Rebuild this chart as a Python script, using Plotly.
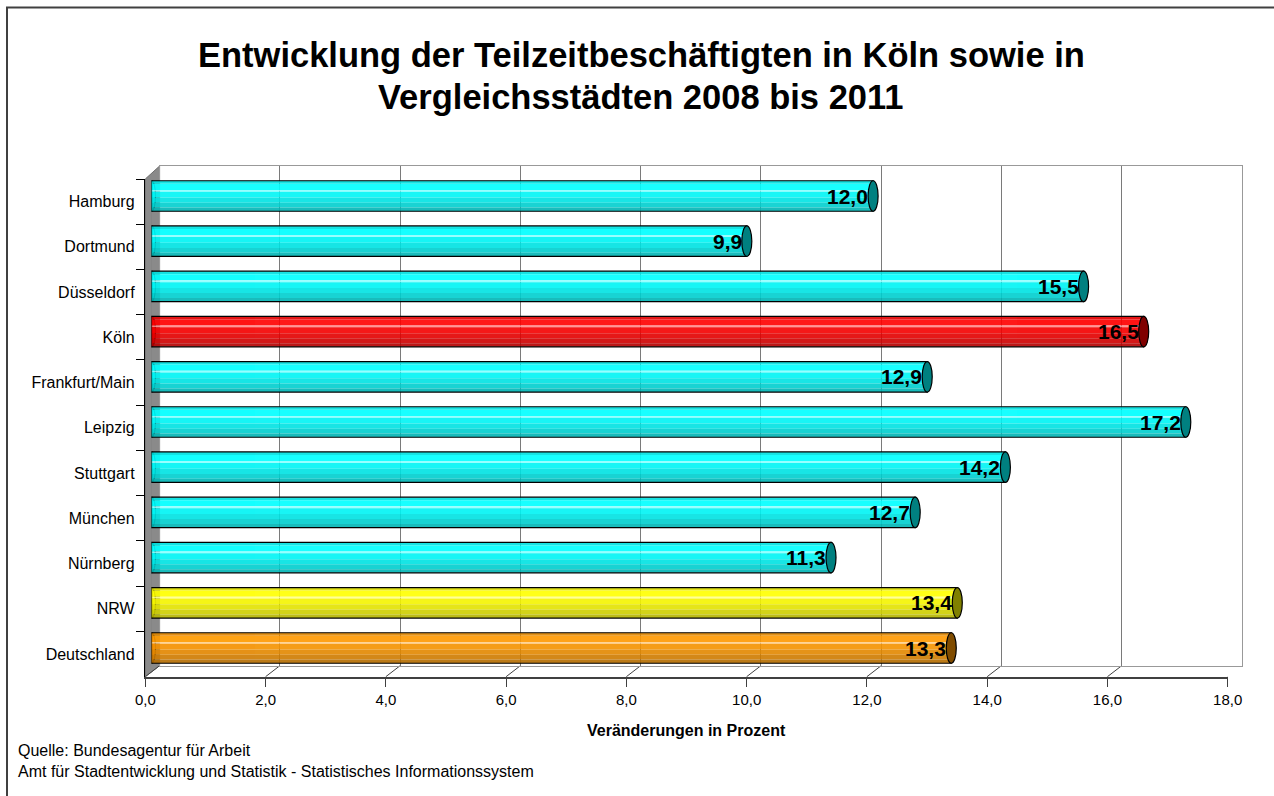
import plotly.graph_objects as go

# ---------------- data ----------------
categories = ["Hamburg", "Dortmund", "Düsseldorf", "Köln", "Frankfurt/Main", "Leipzig",
              "Stuttgart", "München", "Nürnberg", "NRW", "Deutschland"]
values = [12.0, 9.9, 15.5, 16.5, 12.9, 17.2, 14.2, 12.7, 11.3, 13.4, 13.3]
groups = ["city", "city", "city", "koeln", "city", "city", "city", "city", "city", "nrw", "de"]
x_ticks = [0, 2, 4, 6, 8, 10, 12, 14, 16, 18]

title_lines = ["Entwicklung der Teilzeitbeschäftigten in Köln sowie in",
               "Vergleichsstädten 2008 bis 2011"]
x_title = "Veränderungen in Prozent"
source_lines = ["Quelle: Bundesagentur für Arbeit",
                "Amt für Stadtentwicklung und Statistik - Statistisches Informationssystem"]

# ---------------- style ----------------
W, H = 1274, 796
FONT = "Liberation Sans, Arial, sans-serif"
BASE = {"city": (0, 255, 255), "koeln": (255, 0, 0), "nrw": (255, 255, 0), "de": (255, 153, 0)}
CAP = {"city": "#008080", "koeln": "#800000", "nrw": "#808000", "de": "#804C00"}
# (from, to, shade factor or highlight)
STRIPS = [(0.00, 0.10, 0.88), (0.10, 0.30, 1.0), (0.30, 0.36, "hl"), (0.36, 0.55, 0.96),
          (0.55, 0.72, 0.89), (0.72, 0.88, 0.81), (0.88, 1.00, 0.71)]
BW = 0.675


def px(x):
    return x / W


def py(y):
    return 1 - y / H


def shade(rgb, f):
    if f == "hl":
        r, g, b = [int(c + (255 - c) * 0.55) for c in rgb]
    else:
        r, g, b = [int(round(c * f)) for c in rgb]
    return f"rgb({r},{g},{b})"


# plane geometry (pixels)
FRONT = dict(x0=145.3, x1=1227.7, yt=179.0, yb=676.7)
BACK = dict(x0=159.6, x1=1242.0, yt=166.0, yb=665.7)
BARP = dict(x0=151.5, x1=1233.9, yt=173.4, yb=670.6)
DX = BACK["x0"] - FRONT["x0"]

n = len(categories)
cat_range = [n - 0.5, -0.5]

fig = go.Figure()

# invisible traces to anchor back wall & front axes subplots
fig.add_trace(go.Scatter(x=values, y=categories, xaxis="x", yaxis="y", mode="markers",
                         marker=dict(opacity=0), hoverinfo="skip", showlegend=False))

# bar strips (cylinder shading)
for t0, t1, f in STRIPS:
    fig.add_trace(go.Bar(
        x=values, y=categories, orientation="h", xaxis="x2", yaxis="y2",
        width=(t1 - t0) * BW, offset=-BW / 2 + t0 * BW,
        marker=dict(color=[shade(BASE[g], f) for g in groups], line=dict(width=0)),
        opacity=0.9, hoverinfo="skip", showlegend=False))
# outline
fig.add_trace(go.Bar(
    x=values, y=categories, orientation="h", xaxis="x2", yaxis="y2",
    width=BW, offset=-BW / 2,
    marker=dict(color="rgba(0,0,0,0)", line=dict(color="#000000", width=1.2)),
    hoverinfo="skip", showlegend=False))

fig.add_trace(go.Scatter(x=values, y=categories, xaxis="x3", yaxis="y3", mode="markers",
                         marker=dict(opacity=0), hoverinfo="skip", showlegend=False))

shapes = []
# left side wall
shapes.append(dict(type="path", xref="paper", yref="paper", layer="below",
                   path=f"M {px(FRONT['x0'])} {py(FRONT['yt'])} L {px(BACK['x0'])} {py(BACK['yt'])} "
                        f"L {px(BACK['x0'])} {py(BACK['yb'])} L {px(FRONT['x0'])} {py(FRONT['yb'])} Z",
                   fillcolor="#8a8a8a", line=dict(color="#6e6e6e", width=1)))
# floor diagonals
for t in x_ticks:
    shapes.append(dict(type="line", xref="x3", yref="paper", xsizemode="pixel", xanchor=t,
                       x0=0, x1=DX, y0=py(FRONT["yb"]), y1=py(BACK["yb"]),
                       line=dict(color="#404040", width=1), layer="below"))
# left rounded ends and right caps of the cylinders
for i, (v, g) in enumerate(zip(values, groups)):
    shapes.append(dict(type="circle", xref="x2", yref="y2", xsizemode="pixel", xanchor=0,
                       x0=-4, x1=4, y0=i - BW / 2, y1=i + BW / 2,
                       fillcolor=shade(BASE[g], 0.92), line=dict(color="#000000", width=1.2),
                       layer="below"))
    shapes.append(dict(type="circle", xref="x2", yref="y2", xsizemode="pixel", xanchor=v,
                       x0=-5, x1=5, y0=i - BW / 2, y1=i + BW / 2,
                       fillcolor=CAP[g], line=dict(color="#000000", width=1.2), layer="above"))
# outer chart border
shapes.append(dict(type="rect", xref="paper", yref="paper", x0=px(7), x1=px(1300), y0=py(7.5),
                   y1=py(820), line=dict(color="#404040", width=2), fillcolor="rgba(0,0,0,0)"))

annotations = []
for k, (line, yc) in enumerate(zip(title_lines, [54.5, 97])):
    annotations.append(dict(text=f"<b>{line}</b>", x=px(641), y=py(yc), xref="paper", yref="paper",
                            showarrow=False, xanchor="center", yanchor="middle",
                            font=dict(family=FONT, size=34.5, color="#000000")))
annotations.append(dict(text=f"<b>{x_title}</b>", x=px(686), y=py(730), xref="paper", yref="paper",
                        showarrow=False, xanchor="center", yanchor="middle",
                        font=dict(family=FONT, size=16, color="#000000")))
for k, line in enumerate(source_lines):
    annotations.append(dict(text=line, x=px(16), y=py(750 + 21 * k), xref="paper", yref="paper",
                            showarrow=False, xanchor="left", yanchor="middle",
                            font=dict(family=FONT, size=16, color="#000000")))
for v, c in zip(values, categories):
    annotations.append(dict(text=f"<b>{v:.1f}</b>".replace(".", ","), x=v, y=c, xref="x2", yref="y2",
                            showarrow=False, xanchor="right", yanchor="middle", xshift=-3, yshift=0,
                            font=dict(family=FONT, size=21, color="#000000")))

fig.update_layout(
    template="none",
    width=W, height=H, autosize=False,
    margin=dict(l=0, r=0, t=0, b=0, pad=0),
    paper_bgcolor="#ffffff", plot_bgcolor="rgba(0,0,0,0)",
    separators=",.", barmode="overlay", hovermode=False, showlegend=False,
    font=dict(family=FONT, color="#000000"),
    # back wall
    xaxis=dict(domain=[px(BACK["x0"]), px(BACK["x1"])], range=[0, 18], tickvals=x_ticks,
               showgrid=True, gridcolor="#7a7a7a", gridwidth=1, showticklabels=False, ticks="",
               showline=True, mirror=True, linecolor="#999999", linewidth=1, zeroline=False,
               anchor="y", fixedrange=True, automargin=False),
    yaxis=dict(domain=[py(BACK["yb"]), py(BACK["yt"])], type="category", categoryorder="array",
               categoryarray=categories, range=cat_range, showgrid=False, showticklabels=False,
               ticks="", showline=True, mirror=True, linecolor="#999999", linewidth=1,
               zeroline=False, anchor="x", fixedrange=True, automargin=False),
    # bar plane
    xaxis2=dict(domain=[px(BARP["x0"]), px(BARP["x1"])], range=[0, 18], visible=False,
                anchor="y2", fixedrange=True, automargin=False),
    yaxis2=dict(domain=[py(BARP["yb"]), py(BARP["yt"])], type="category", categoryorder="array",
                categoryarray=categories, range=cat_range, visible=False, anchor="x2",
                fixedrange=True, automargin=False),
    # front axes
    xaxis3=dict(domain=[px(FRONT["x0"]), px(FRONT["x1"])], range=[0, 18], tickvals=x_ticks,
                tickformat=".1f", ticks="outside", ticklen=8, tickcolor="#404040", tickwidth=1,
                showline=True, linecolor="#404040", linewidth=2, showgrid=False, zeroline=False,
                tickfont=dict(family=FONT, size=15, color="#000000"), anchor="y3", fixedrange=True,
                automargin=False),
    yaxis3=dict(domain=[py(FRONT["yb"]), py(FRONT["yt"])], type="category", categoryorder="array",
                categoryarray=categories, range=cat_range, ticks="outside", tickson="boundaries",
                ticklen=8, tickcolor="#000000", tickwidth=1, showline=True, linecolor="#000000",
                linewidth=1.5, showgrid=False, zeroline=False, ticklabelstandoff=6,
                tickfont=dict(family=FONT, size=16, color="#000000"), anchor="x3",
                fixedrange=True, automargin=False),
    shapes=shapes,
    annotations=annotations,
)

fig.write_html("out.html", config={"displayModeBar": False, "staticPlot": True},
               post_script="document.body.style.margin='0px';")
